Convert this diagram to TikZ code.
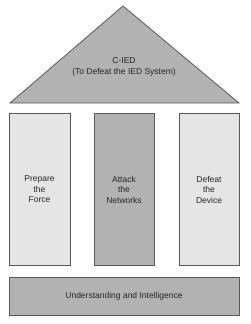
\documentclass[tikz,border=0pt]{standalone}
\usepackage{fontspec}
\setmainfont{Liberation Sans}
\begin{document}
\begin{tikzpicture}[x=1pt,y=-1pt,
  part/.style={draw=black!65,line width=0.8pt},
  lbl/.style={font=\fontsize{8.5}{10.5}\selectfont,align=center,text=black!85},
  dark/.style={part,fill=black!30},
  light/.style={part,fill=black!10}]
\useasboundingbox (0,0) rectangle (250,324);
\draw[dark] (10,103) coordinate (bl) -- (123,6) coordinate (apex) -- (239,103) coordinate (br) -- cycle;
\node[lbl] (roof) at (124,67) {C-IED\\(To Defeat the IED System)};
\node[light,minimum width=61pt,minimum height=152pt,inner sep=0pt] (p1) at (39.5,189.5) {};
\node[dark,minimum width=60pt,minimum height=152pt,inner sep=0pt] (p2) at (124,189.5) {};
\node[light,minimum width=60pt,minimum height=152pt,inner sep=0pt] (p3) at (209,189.5) {};
\node[lbl] at (p1) (t1) {Prepare\\the\\Force};
\node[lbl] at (p2) (t2) {Attack\\the\\Networks};
\node[lbl] at (p3) (t3) {Defeat\\the\\Device};
\node[dark,minimum width=230pt,minimum height=38pt,inner sep=0pt] (base) at (124,296) {};
\node[lbl] at (base) (tb) {Understanding and Intelligence};
\end{tikzpicture}
\end{document}
